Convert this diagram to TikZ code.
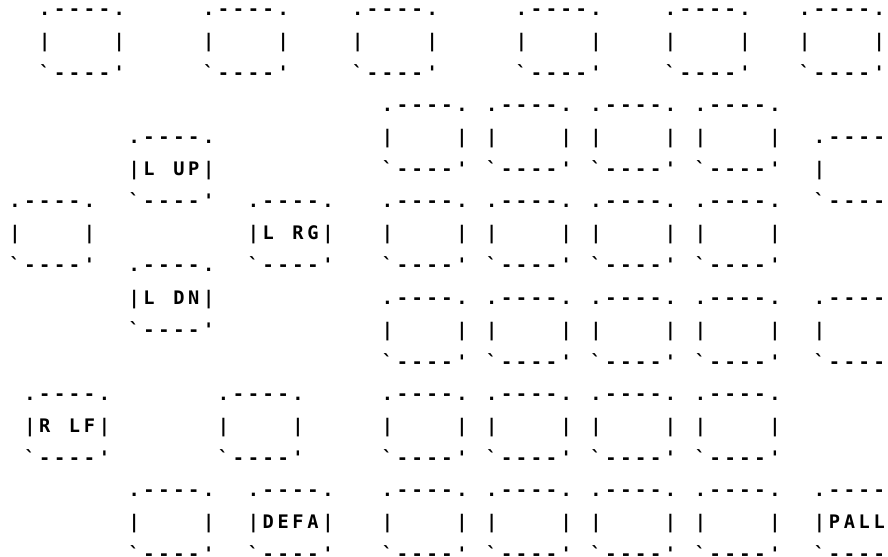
\documentclass[tikz,border=0pt]{standalone}
\usepackage{fontspec}
\newfontfamily\keyfont{DejaVu Sans Mono Bold}
\newlength\kpitch
\setlength\kpitch{11.175pt}
\makeatletter
\def\kl@end{\kl@end}
\newcommand\kline[1]{\kl@go#1\kl@end}
\def\kl@go#1{\ifx#1\kl@end\else\makebox[\kpitch][c]{#1}\expandafter\kl@go\fi}
\makeatother
\newcommand\kstrut{\rule[-12pt]{0pt}{24pt}}
\newcommand\keytext[1]{\kstrut\kline{.----.}\\\kstrut\kline{|#1|}\\\kstrut\kline{`----'}}
\tikzset{
  keycap/.style={inner sep=0pt,outer sep=0pt,align=center,font={\keyfont\fontsize{14pt}{24pt}\selectfont}}
}
\begin{document}
\begin{tikzpicture}[x=11.175pt,y=24pt]
\useasboundingbox (-1.007,0.5) rectangle (58.59,-16.906);
% top row
\node[keycap] (t1) at (4.5,-1) {\keytext{~~~~}};
\node[keycap] (t2) at (15.5,-1) {\keytext{~~~~}};
\node[keycap] (t3) at (25.5,-1) {\keytext{~~~~}};
\node[keycap] (t4) at (36.5,-1) {\keytext{~~~~}};
\node[keycap] (t5) at (46.5,-1) {\keytext{~~~~}};
\node[keycap] (t6) at (55.5,-1) {\keytext{~~~~}};
% left cluster
\node[keycap] (lup) at (10.5,-5) {\keytext{L~UP}};
\node[keycap] (lleft) at (2.5,-7) {\keytext{~~~~}};
\node[keycap] (lrg) at (18.5,-7) {\keytext{L~RG}};
\node[keycap] (ldn) at (10.5,-9) {\keytext{L~DN}};
\node[keycap] (rlf) at (3.5,-13) {\keytext{R~LF}};
\node[keycap] (lmid) at (16.5,-13) {\keytext{~~~~}};
\node[keycap] (lbot) at (10.5,-16) {\keytext{~~~~}};
\node[keycap] (defa) at (18.5,-16) {\keytext{DEFA}};
% key block
\node[keycap] (g11) at (27.5,-4) {\keytext{~~~~}};
\node[keycap] (g12) at (34.5,-4) {\keytext{~~~~}};
\node[keycap] (g13) at (41.5,-4) {\keytext{~~~~}};
\node[keycap] (g14) at (48.5,-4) {\keytext{~~~~}};
\node[keycap] (g21) at (27.5,-7) {\keytext{~~~~}};
\node[keycap] (g22) at (34.5,-7) {\keytext{~~~~}};
\node[keycap] (g23) at (41.5,-7) {\keytext{~~~~}};
\node[keycap] (g24) at (48.5,-7) {\keytext{~~~~}};
\node[keycap] (g31) at (27.5,-10) {\keytext{~~~~}};
\node[keycap] (g32) at (34.5,-10) {\keytext{~~~~}};
\node[keycap] (g33) at (41.5,-10) {\keytext{~~~~}};
\node[keycap] (g34) at (48.5,-10) {\keytext{~~~~}};
\node[keycap] (g41) at (27.5,-13) {\keytext{~~~~}};
\node[keycap] (g42) at (34.5,-13) {\keytext{~~~~}};
\node[keycap] (g43) at (41.5,-13) {\keytext{~~~~}};
\node[keycap] (g44) at (48.5,-13) {\keytext{~~~~}};
\node[keycap] (g51) at (27.5,-16) {\keytext{~~~~}};
\node[keycap] (g52) at (34.5,-16) {\keytext{~~~~}};
\node[keycap] (g53) at (41.5,-16) {\keytext{~~~~}};
\node[keycap] (g54) at (48.5,-16) {\keytext{~~~~}};
% right edge
\node[keycap] (r1) at (56.5,-5) {\keytext{~~~~}};
\node[keycap] (r2) at (56.5,-10) {\keytext{~~~~}};
\node[keycap] (pall) at (56.5,-16) {\keytext{PALL}};
\end{tikzpicture}
\end{document}
